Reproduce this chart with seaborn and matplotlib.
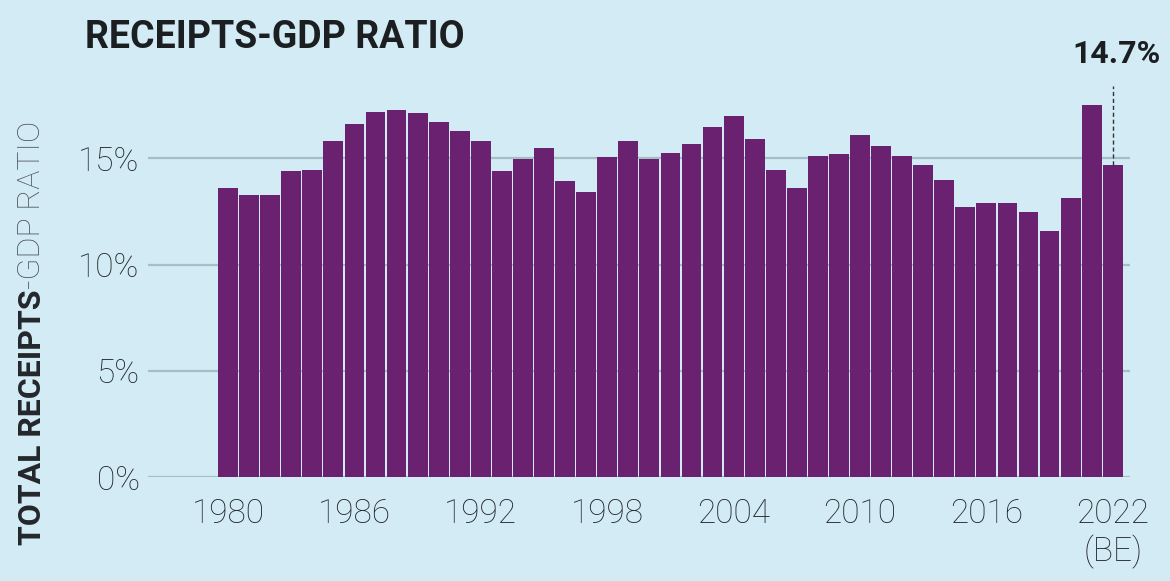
import matplotlib
matplotlib.use("Agg")
import matplotlib.pyplot as plt
import seaborn as sns
import pandas as pd

# Data (% of GDP)
years = list(range(1980, 2023))
receipts_pct = [
    13.6, 13.3, 13.3, 14.4, 14.45, 15.8, 16.6, 17.2, 17.3, 17.15,
    16.7, 16.3, 15.8, 14.4, 14.95, 15.5, 13.95, 13.4, 15.05, 15.8,
    14.95, 15.25, 15.7, 16.5, 17.0, 15.9, 14.45, 13.6, 15.1, 15.2,
    16.1, 15.6, 15.1, 14.7, 14.0, 12.7, 12.9, 12.9, 12.5, 11.6,
    13.15, 17.5, 14.7,
]
tick_years = [1980, 1986, 1992, 1998, 2004, 2010, 2016, 2022]
tick_labels = ["1980", "1986", "1992", "1998", "2004", "2010", "2016", "2022\n(BE)"]
y_ticks = [0, 5, 10, 15]
y_tick_labels = ["0%", "5%", "10%", "15%"]
callout_year = 2022
callout_text = "14.7%"

BG = "#d2ebf4"
BAR = "#6a2170"
GRID = "#a8bec6"
TEXT = "#23272b"
FONT = ["Roboto", "DejaVu Sans"]

sns.set_style("white")
plt.rcParams["font.family"] = FONT

df = pd.DataFrame({"year": [str(y) for y in years], "pct": receipts_pct})

fig = plt.figure(figsize=(11.7, 5.81), dpi=100)
fig.patch.set_facecolor(BG)
ax = fig.add_axes([0.1265, 0.179, 0.839, 0.658])
ax.set_facecolor(BG)

sns.barplot(data=df, x="year", y="pct", color=BAR, saturation=1,
            width=0.94, linewidth=0, ax=ax, zorder=3)

# gridlines behind bars
for yt in y_ticks:
    ax.axhline(yt, color=GRID, lw=1.6, zorder=1)

ax.set_xlim(-3.8, len(years) - 0.2)
ax.set_ylim(0, 18)
sns.despine(ax=ax, left=True, bottom=True)

ax.set_yticks(y_ticks)
ax.set_yticklabels(y_tick_labels, fontsize=24, color=TEXT, fontweight="light")
ax.set_xticks([years.index(y) for y in tick_years])
ax.set_xticklabels(tick_labels, fontsize=24, color=TEXT, fontweight="light",
                   linespacing=1.2)
ax.tick_params(axis="y", length=0, pad=6)
ax.tick_params(axis="x", length=0, pad=15)
ax.set_xlabel("")
ax.set_ylabel("")

# y axis label with mixed weights
t1 = fig.text(0.027, 0.062, "TOTAL RECEIPTS", rotation=90, fontsize=23,
              fontweight="bold", color=TEXT, ha="center", va="bottom")
fig.canvas.draw()
ax.annotate("-GDP RATIO", xy=(0.5, 1.0), xycoords=t1, rotation=90,
            fontsize=23, color="#50565b", fontweight="light",
            ha="center", va="bottom", annotation_clip=False)

# title
fig.text(0.073, 0.935, "RECEIPTS-GDP RATIO", fontsize=27, fontweight="bold",
         color="#1c1f22", ha="left", va="center")

# callout for the last bar
ci = years.index(callout_year)
cv = receipts_pct[ci]
ax.plot([ci, ci], [cv, 18.4], color="#333333", lw=1, ls=(0, (3, 2)),
        zorder=4, clip_on=False)
ax.text(ci + 0.2, 19.9, callout_text, fontsize=23, fontweight="bold",
        color="#1c1f22", ha="center", va="center", clip_on=False)

fig.savefig("out.png", dpi=100, facecolor=BG)
